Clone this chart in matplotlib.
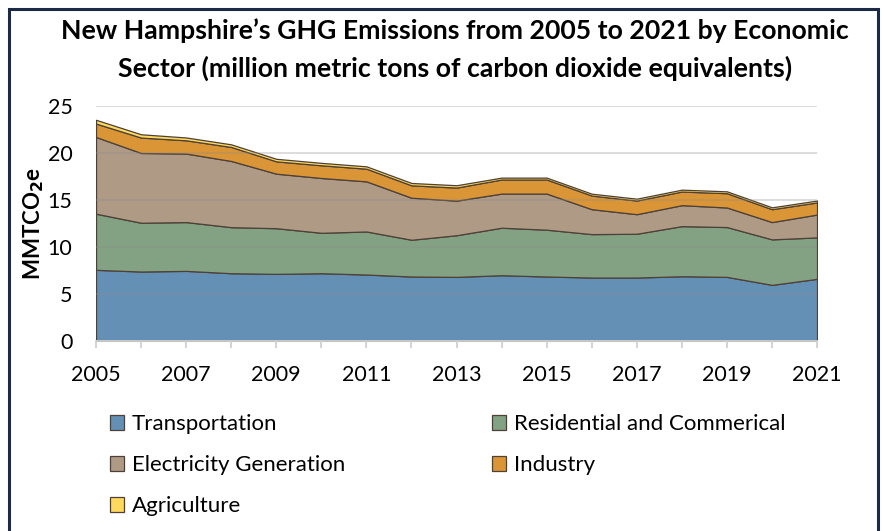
import matplotlib

matplotlib.use("Agg")
import matplotlib.pyplot as plt
from matplotlib.patches import Rectangle

plt.rcParams["font.family"] = ["Lato", "DejaVu Sans"]

years = list(range(2005, 2022))
transportation = [7.57, 7.39, 7.46, 7.21, 7.14, 7.21, 7.07, 6.86, 6.82,
                  7.00, 6.86, 6.75, 6.75, 6.89, 6.82, 5.97, 6.61]
residential = [5.97, 5.19, 5.19, 4.90, 4.86, 4.30, 4.58, 3.91, 4.43,
               5.05, 4.98, 4.62, 4.66, 5.33, 5.30, 4.84, 4.41]
electricity = [8.16, 7.42, 7.29, 7.04, 5.80, 5.83, 5.33, 4.47, 3.68,
               3.63, 3.84, 2.65, 2.08, 2.23, 2.08, 1.84, 2.43]
industry = [1.43, 1.64, 1.41, 1.49, 1.31, 1.35, 1.35, 1.32, 1.39,
            1.50, 1.50, 1.45, 1.45, 1.45, 1.52, 1.37, 1.29]
agriculture = [0.40, 0.35, 0.30, 0.28, 0.27, 0.26, 0.25, 0.25, 0.25,
               0.20, 0.20, 0.20, 0.20, 0.20, 0.20, 0.20, 0.20]

sectors = ["Transportation", "Residential and Commerical",
           "Electricity Generation", "Industry", "Agriculture"]
colors = ["#6590b6", "#83a283", "#af9a86", "#da9537", "#fed95e"]
label_years = years[::2]

fig = plt.figure(figsize=(8.85, 5.31), dpi=100)
ax = fig.add_axes([0.1085, 0.3578, 0.8147, 0.4426])

polys = ax.stackplot(years, transportation, residential, electricity,
                     industry, agriculture, colors=colors, labels=sectors,
                     edgecolor="#4d4036", linewidth=0.9, zorder=2)

ax.set_xlim(years[0], years[-1])
ax.set_ylim(0, 25)
ax.set_yticks(range(0, 26, 5))
ax.set_xticks(years)
ax.set_xticklabels([str(y) if y in label_years else "" for y in years])
ax.yaxis.grid(True, color="#8c8c8c", alpha=0.35, linewidth=1.2, zorder=3)
ax.set_axisbelow(False)

for side in ("left", "right", "top"):
    ax.spines[side].set_visible(False)
ax.spines["bottom"].set_color("#d0d0d0")
ax.spines["bottom"].set_linewidth(1.3)
ax.spines["bottom"].set_zorder(4)
ax.tick_params(axis="y", length=0, pad=17, labelsize=15.5)
ax.tick_params(axis="x", length=5, width=1.3, color="#d0d0d0",
               pad=12, labelsize=15.5)

ax.set_ylabel("MMTCO$_\\mathbf{2}$e", fontsize=16, fontweight="bold",
              labelpad=1)

fig.text(0.514, 0.943, "New Hampshire\u2019s GHG Emissions from 2005 to 2021 by Economic",
         ha="center", va="center", fontsize=19.2, fontweight="bold")
fig.text(0.514, 0.872, "Sector (million metric tons of carbon dioxide equivalents)",
         ha="center", va="center", fontsize=19.2, fontweight="bold")

# row-wise legend order: T, R / E, I / A
order = [0, 2, 4, 1, 3]
fig.legend([polys[i] for i in order], [sectors[i] for i in order],
           loc="upper left", bbox_to_anchor=(0.124, 0.220), ncol=2,
           frameon=False, fontsize=16, handlelength=0.65, handleheight=0.65,
           handletextpad=0.35, labelspacing=0.95, columnspacing=6.6,
           borderpad=0, borderaxespad=0)

fig.add_artist(Rectangle((9 / 885, -0.05), 869 / 885, 1.05 - 9 / 531,
                         transform=fig.transFigure, fill=False,
                         edgecolor="#1b2b45", linewidth=2.2))

fig.savefig("out.png", dpi=100)
